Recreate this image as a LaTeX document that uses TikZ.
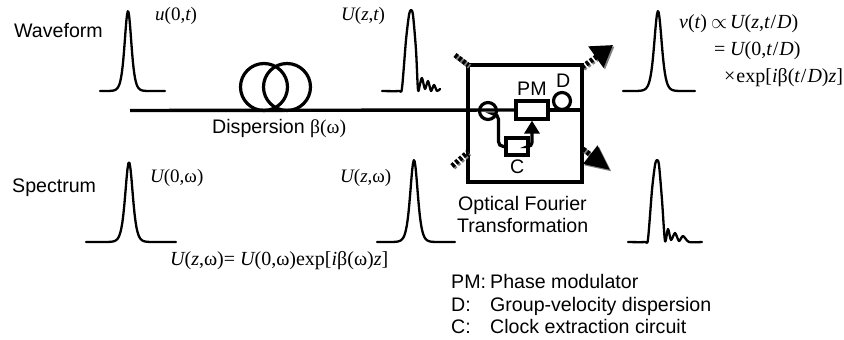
\documentclass[tikz,border=0pt]{standalone}
\usepackage{amsmath}
\usepackage{amssymb}
\usepackage{fontspec}
\setmainfont{Liberation Sans}
\newfontfamily\timesfont{Liberation Serif}
\usetikzlibrary{%
  calc,%
  arrows.meta%
}
\newcommand{\iv}[1]{{\itshape #1}}
\pgfmathdeclarefunction{sechsq}{1}{\pgfmathparse{4*exp(-2*abs(#1))/(1+exp(-2*abs(#1)))^2}}
\tikzset{
  trace/.style={line width=2.3,line cap=round,line join=round},
  fibre/.style={line width=3.4},
  part/.style={draw,line width=3.2,inner sep=0},
  loopfibre/.style={draw,circle,line width=3.2,inner sep=0},
  stub/.style={line width=5,dash pattern=on 3 off 2},
  shadow/.style={draw=gray,gray,transform canvas={xshift=1.5,yshift=-1.5}},
  sans/.style={font=\fontsize{19.6}{22}\selectfont,inner sep=0,anchor=base west},
  times/.style={font=\fontsize{19}{22}\selectfont\timesfont,inner sep=0,anchor=base west},
  bigtimes/.style={font=\fontsize{20}{22}\selectfont\timesfont,inner sep=0,anchor=base west},
  netip/.style={-{Triangle[length=21,width=25]}},
  setip/.style={-{Triangle[length=25,width=22]}},
}

\begin{document}
\begin{tikzpicture}[x=1pt,y=-1pt]
\useasboundingbox (0,0) rectangle (844,340);
\foreach \peak/\base/\high/\wid/\from/\to in {128/91/80/4.5/-28/37,658/91/80/5/-35/37,129/242/80/5/-43/47,414/242/82/5/-37/41}
  \draw[trace] plot[domain=\from:\to,samples=90,variable=\u] ({\peak+\u},{\base-\high*sechsq(\u/\wid)});
\draw[trace] plot[smooth,tension=.45] coordinates {(382,91) (399,91) (402,88) (406,40) (409,15) (411,10) (413,15) (416,50) (418,90) (420,84) (422,78) (425,89) (428,81) (431,91) (434,85) (437,91) (440,89)};
\draw[trace] plot[smooth,tension=.45] coordinates {(628,242) (645,242) (648,239) (652,190) (655,165) (657,160) (659,165) (662,200) (665,241) (668,229) (671,240) (675,233) (679,241) (683,236) (689,242) (702,242)};

% fourier box
\node[part,minimum width=114,minimum height=117] (box) at (525,123.5) {};
\node[part,minimum width=32,minimum height=18] (PM) at (532,110) {};
\node[part,minimum width=22,minimum height=17] (C) at (517,146.5) {};
\node[loopfibre,minimum size=17] (D) at (562,101) {};
\node[loopfibre,minimum size=17] (tap) at (488,111) {};
\node[loopfibre,minimum size=47] (coil1) at (264,87) {};
\node[loopfibre,minimum size=47] (coil2) at (287,87) {};

\coordinate (in) at (130,110.5);
\coordinate (bend) at (496,114);
\coordinate (nw1) at (455,55);
\coordinate (nw2) at (468,65);
\coordinate (sw1) at (452,166);
\coordinate (sw2) at (468,152);
\coordinate (ne1) at (582,67);
\coordinate (ne2) at (613,45);
\coordinate (se1) at (583,149);
\coordinate (se2) at (610,170);

\draw[fibre] (in) -- (PM.west);
\draw[fibre] (PM.east) -- (box.east |- PM.east);
\draw[part,rounded corners=5] (bend) -| ($(C.west)+(-6,0)$) -- (C.west);
\draw[part,rounded corners=4,-{Triangle[length=13,width=15]}] (C.east) -| (PM.south);

\draw[stub,shadow] (nw1) -- (nw2);
\draw[stub,shadow] (sw1) -- (sw2);
\draw[stub,shadow,netip] (ne1) -- (ne2);
\draw[stub,shadow,setip] (se1) -- (se2);
\draw[stub] (nw1) -- (nw2);
\draw[stub] (sw1) -- (sw2);
\draw[stub,netip] (ne1) -- (ne2);
\draw[stub,setip] (se1) -- (se2);

\node[sans] (wave) at (14,37) {Waveform};
\node[sans] (spec) at (12,192) {Spectrum};
\node[sans] (disp) at (212,133) {Dispersion {\timesfont β(ω)}};
\node[sans] (lPM) at (517,95) {PM};
\node[sans] (lD) at (556,87) {D};
\node[sans] (lC) at (510,173) {C};
\node[sans] (oft1) at (458,210) {Optical Fourier};
\node[sans] (oft2) at (457,232) {Transformation};

\node[times] (u0t) at (155,20) {\iv{u}(0,\iv{t})};
\node[times] (Uzt) at (341,20) {\iv{U}(\iv{z},\iv{t})};
\node[times] (U0w) at (150,182) {\iv{U}(0,ω)};
\node[times] (Uzw) at (340,182) {\iv{U}(\iv{z},ω)};
\node[bigtimes] (fwd) at (170,265) {\iv{U}(\iv{z},ω)= \iv{U}(0,ω)exp[\iv{i}β(ω)\iv{z}]};
\node[bigtimes] (v1) at (679,28) {\makebox[51pt][l]{\iv{v}(\iv{t})\hfill$\propto$\kern3pt}\iv{U}(\iv{z},\iv{t}\kern1pt/\kern1pt\iv{D})};
\node[bigtimes] (v2) at (714,55) {\makebox[16pt][l]{=}\iv{U}(0,\iv{t}\kern1pt/\kern1pt\iv{D})};
\node[bigtimes] (v3) at (724,82) {×\kern1pt exp[\iv{i}β(\iv{t}\kern1pt/\kern1pt\iv{D})\iv{z}]};

\node[sans] (k1) at (451,288) {PM:};
\node[sans] (k2) at (451,311) {D:};
\node[sans] (k3) at (451,333) {C:};
\node[sans] (t1) at (490,288) {Phase modulator};
\node[sans] (t2) at (490,311) {Group-velocity dispersion};
\node[sans] (t3) at (490,333) {Clock extraction circuit};
\end{tikzpicture}
\end{document}
